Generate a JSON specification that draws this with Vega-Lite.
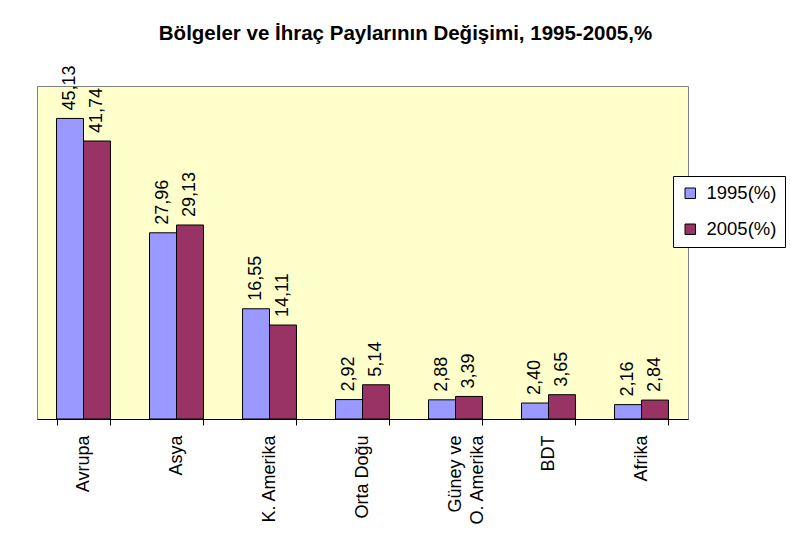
{
  "$schema": "https://vega.github.io/schema/vega-lite/v6.json",
  "width": 651,
  "height": 333,
  "autosize": "none",
  "padding": {"left": 37, "top": 86, "right": 110, "bottom": 116},
  "background": "white",
  "config": {
    "font": "Liberation Sans",
    "locale": {"number": {"decimal": ",", "thousands": ".", "grouping": [3], "currency": ["", " TL"]}},
    "view": {"fill": "#FFFFCC", "stroke": "#808080", "strokeWidth": 1}
  },
  "title": {
    "text": "Bölgeler ve İhraç Paylarının Değişimi, 1995-2005,%",
    "font": "Liberation Sans",
    "fontSize": 20.5,
    "fontWeight": "bold",
    "color": "black",
    "anchor": "middle",
    "baseline": "alphabetic",
    "offset": 5,
    "dx": 43
  },
  "data": {
    "values": [
      {"region": "Avrupa", "year": "1995(%)", "share": 45.13},
      {"region": "Avrupa", "year": "2005(%)", "share": 41.74},
      {"region": "Asya", "year": "1995(%)", "share": 27.96},
      {"region": "Asya", "year": "2005(%)", "share": 29.13},
      {"region": "K. Amerika", "year": "1995(%)", "share": 16.55},
      {"region": "K. Amerika", "year": "2005(%)", "share": 14.11},
      {"region": "Orta Doğu", "year": "1995(%)", "share": 2.92},
      {"region": "Orta Doğu", "year": "2005(%)", "share": 5.14},
      {"region": "Güney ve O. Amerika", "year": "1995(%)", "share": 2.88},
      {"region": "Güney ve O. Amerika", "year": "2005(%)", "share": 3.39},
      {"region": "BDT", "year": "1995(%)", "share": 2.40},
      {"region": "BDT", "year": "2005(%)", "share": 3.65},
      {"region": "Afrika", "year": "1995(%)", "share": 2.16},
      {"region": "Afrika", "year": "2005(%)", "share": 2.84}
    ]
  },
  "encoding": {
    "x": {
      "field": "region",
      "type": "nominal",
      "sort": null,
      "scale": {"paddingInner": 0.42, "paddingOuter": 0.21},
      "axis": {
        "title": null,
        "labelAngle": -90,
        "labelFontSize": 18,
        "labelColor": "black",
        "labelPadding": 10,
        "labelLimit": 300,
        "labelLineHeight": 22,
        "labelExpr": "datum.value == 'Güney ve O. Amerika' ? ['Güney ve', 'O. Amerika'] : datum.label",
        "tickBand": "extent",
        "tickSize": 6,
        "tickColor": "black",
        "domainColor": "black",
        "domainWidth": 1,
        "grid": false
      }
    },
    "xOffset": {"field": "year", "type": "nominal"},
    "y": {
      "field": "share",
      "type": "quantitative",
      "scale": {"domain": [0, 50], "nice": false},
      "axis": null
    }
  },
  "layer": [
    {
      "mark": {"type": "bar", "stroke": "black", "strokeWidth": 1, "opacity": 1},
      "encoding": {
        "color": {
          "field": "year",
          "type": "nominal",
          "scale": {"domain": ["1995(%)", "2005(%)"], "range": ["#9999FF", "#993366"]},
          "legend": {
            "title": null,
            "orient": "none",
            "legendX": 636,
            "legendY": 90,
            "fillColor": "white",
            "strokeColor": "black",
            "padding": 8,
            "symbolType": "square",
            "symbolSize": 110,
            "symbolStrokeColor": "black",
            "symbolStrokeWidth": 1,
            "symbolOpacity": 1,
            "labelFontSize": 18.5,
            "labelColor": "black",
            "labelOffset": 7,
            "rowPadding": 17
          }
        }
      }
    },
    {
      "mark": {"type": "text", "angle": -90, "align": "left", "baseline": "middle", "dx": 8, "fontSize": 18, "color": "black"},
      "encoding": {
        "text": {"field": "share", "type": "quantitative", "format": ".2f"}
      }
    }
  ]
}
